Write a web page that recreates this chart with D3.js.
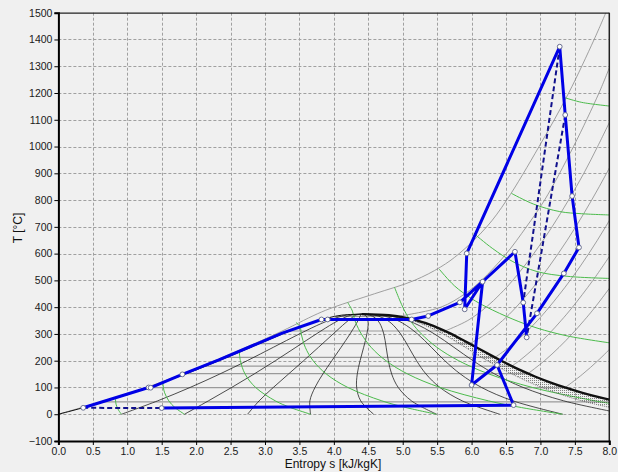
<!DOCTYPE html>
<html>
<head>
<meta charset="utf-8">
<script src="https://cdn.jsdelivr.net/npm/d3@7"></script>
<style>
  html, body { margin: 0; padding: 0; background: #f0f0f0; }
  svg { display: block; font-family: "Liberation Sans", Arial, sans-serif; }
</style>
</head>
<body>
<svg id="chart" width="618" height="472"></svg>
<script>
// ---- axis ticks ----
const sTicks = [0, 0.5, 1, 1.5, 2, 2.5, 3, 3.5, 4, 4.5, 5, 5.5, 6, 6.5, 7, 7.5, 8];
const tTicks = [-100, 0, 100, 200, 300, 400, 500, 600, 700, 800, 900, 1000, 1100, 1200, 1300, 1400, 1500];

// ---- saturation curve of water: T [°C], s' and s'' [kJ/kgK] ----
const satT  = [0.01, 10, 20, 30, 40, 50, 60, 80, 100, 120, 140, 160, 180, 200, 220, 240, 260, 280, 300, 320, 340, 350, 360, 370, 373.95];
const satSf = [0, 0.151, 0.2966, 0.4369, 0.5725, 0.7038, 0.8313, 1.0756, 1.3072, 1.5279, 1.7392, 1.9426, 2.1392, 2.3305, 2.5177, 2.702, 2.8849, 3.0685, 3.2552, 3.4494, 3.6601, 3.7784, 3.9167, 4.1112, 4.407];
const satSg = [9.155, 8.899, 8.666, 8.452, 8.256, 8.075, 7.908, 7.611, 7.354, 7.129, 6.929, 6.75, 6.585, 6.431, 6.284, 6.141, 5.998, 5.852, 5.705, 5.536, 5.336, 5.213, 5.053, 4.8, 4.407];

// lower edge of the stippled wet-steam band below the dew line [s, T]
const bandEdge = [[4.407, 373.95], [4.766, 370], [4.996, 360], [5.252, 340], [5.583, 300], [5.908, 250], [6.226, 200], [6.588, 150], [7.02, 100], [7.6, 50], [8.5, 0]];

// ---- lines of constant steam quality x [s, T] ----
const quality01 = [[0.916, 0], [1.441, 50], [1.912, 100], [2.342, 150], [2.741, 200], [3.121, 250], [3.5, 300], [3.828, 340], [4.031, 360], [4.18, 370], [4.407, 373.95]];
const quality02 = [[1.831, 0], [2.178, 50], [2.516, 100], [2.841, 150], [3.151, 200], [3.449, 250], [3.745, 300], [3.995, 340], [4.144, 360], [4.249, 370], [4.407, 373.95]];
const quality03 = [[2.747, 0], [2.915, 50], [3.121, 100], [3.341, 150], [3.561, 200], [3.777, 250], [3.99, 300], [4.163, 340], [4.258, 360], [4.318, 370], [4.407, 373.95]];
const quality04 = [[3.662, 0], [3.652, 50], [3.726, 100], [3.84, 150], [3.971, 200], [4.105, 250], [4.235, 300], [4.33, 340], [4.371, 360], [4.387, 370], [4.407, 373.95]];
const quality05 = [[4.578, 0], [4.39, 50], [4.331, 100], [4.34, 150], [4.381, 200], [4.433, 250], [4.48, 300], [4.498, 340], [4.485, 360], [4.456, 370], [4.407, 373.95]];
const quality06 = [[5.493, 0], [5.127, 50], [4.935, 100], [4.84, 150], [4.791, 200], [4.76, 250], [4.725, 300], [4.666, 340], [4.599, 360], [4.524, 370], [4.407, 373.95]];
const quality07 = [[6.409, 0], [5.864, 50], [5.54, 100], [5.339, 150], [5.201, 200], [5.088, 250], [4.97, 300], [4.833, 340], [4.712, 360], [4.593, 370], [4.407, 373.95]];
const quality08 = [[7.324, 0], [6.601, 50], [6.145, 100], [5.839, 150], [5.611, 200], [5.416, 250], [5.215, 300], [5.001, 340], [4.826, 360], [4.662, 370], [4.407, 373.95]];
const quality09 = [[8.24, 0], [7.338, 50], [6.749, 100], [6.338, 150], [6.021, 200], [5.744, 250], [5.46, 300], [5.168, 340], [4.939, 360], [4.731, 370], [4.407, 373.95]];

// ---- isobars: boiling temperature [°C] and superheated branch [s, T] ----
const isobarTsat = [45.8, 99.6, 151.8, 179.9, 212.4, 263.9, 311.0, 365.8];
const isobar1   = [[7.359, 99.6], [7.614, 150], [7.834, 200], [8.033, 250]];
const isobar5   = [[6.821, 151.8], [7.059, 200], [7.271, 250], [7.46, 300], [7.633, 350], [7.794, 400], [8.087, 500]];
const isobar10  = [[6.585, 179.9], [6.694, 200], [6.925, 250], [7.123, 300], [7.301, 350], [7.465, 400], [7.762, 500], [8.029, 600]];
const isobar20  = [[6.34, 212.4], [6.545, 250], [6.767, 300], [6.957, 350], [7.127, 400], [7.432, 500], [7.702, 600], [7.946, 700], [8.171, 800]];
const isobar50  = [[5.973, 263.9], [6.208, 300], [6.451, 350], [6.647, 400], [6.976, 500], [7.258, 600], [7.512, 700], [7.744, 800], [7.96, 900], [8.16, 1000]];
const isobar100 = [[5.614, 311], [5.944, 350], [6.212, 400], [6.419, 450], [6.597, 500], [6.903, 600], [7.169, 700], [7.408, 800], [7.63, 900], [7.83, 1000], [8.02, 1100]];
const isobar200 = [[4.927, 365.8], [5.554, 400], [5.904, 450], [6.143, 500], [6.505, 600], [6.796, 700], [7.06, 800], [7.48, 1000], [7.85, 1200], [8.01, 1300]];
const isobar500 = [[0, 0], [1.28, 100], [2.27, 200], [3.16, 300], [3.76, 375], [4.0, 400], [4.59, 450], [5.17, 500], [5.55, 550], [5.82, 600], [6.22, 700], [6.51, 800], [6.98, 1000], [7.41, 1200], [7.78, 1400], [7.95, 1500]];

// ---- isenthalps [s, T] ----
const h250  = [[0.83, 60], [0.832, 45], [0.846, 30], [0.874, 15], [0.915, 0]];
const h500  = [[1.52, 119], [1.524, 100], [1.543, 80], [1.603, 50], [1.692, 25], [1.831, 0]];
const h1000 = [[2.627, 232], [2.643, 200], [2.711, 150], [2.864, 100], [3.15, 50], [3.37, 25], [3.662, 0]];
const h1500 = [[3.45, 343], [3.51, 326], [3.527, 300], [3.585, 250], [3.699, 200], [3.892, 150], [4.203, 100], [4.697, 50], [5.047, 25], [5.491, 0]];
const h2000 = [[4.2, 418], [4.27, 385], [4.294, 360], [4.321, 340], [4.399, 300], [4.541, 250], [4.756, 200], [5.074, 150], [5.543, 100], [6.244, 50], [6.723, 25], [7.321, 0]];
const h2500 = [[4.88, 475], [4.95, 430], [5.02, 390], [5.09, 358], [5.137, 340], [5.271, 300], [5.496, 250], [5.812, 200], [6.255, 150], [6.883, 100], [7.791, 50], [8.019, 40]];
const h3000 = [[5.53, 542], [5.75, 480], [6.0, 432], [6.22, 400], [6.6, 355], [6.95, 322], [7.4, 292], [8.05, 265]];
const h3500 = [[6.03, 676], [6.3, 620], [6.6, 570], [6.95, 533], [7.4, 515], [8.05, 507]];
const h4000 = [[6.58, 825], [6.9, 785], [7.28, 757], [7.6, 749], [8.05, 744]];
const h5000 = [[7.36, 1182], [7.6, 1165], [8.05, 1150]];

// ---- process lines [s, T] ----
const feedLine   = [[0.36, 24], [1.31, 100], [1.34, 99], [1.8, 149], [2.33, 203], [2.79, 253], [3.25, 303], [3.82, 354], [3.91, 354], [5.13, 354]];
const mainPath   = [[5.13, 354], [5.37, 367], [5.83, 418], [6.16, 495], [5.9, 392], [5.93, 601], [7.28, 1373], [7.36, 1118], [7.46, 815], [7.56, 623], [7.34, 526], [6.95, 377], [6.37, 184], [6.0, 109], [6.16, 495], [6.63, 607], [6.75, 417], [6.8, 287]];
const condLine   = [[1.5, 23], [6.61, 34], [6.37, 184]];
const dashedLow  = [[0.36, 24], [1.5, 23]];
const dashedHigh1 = [[7.28, 1373], [6.75, 417]];
const dashedHigh2 = [[7.36, 1118], [6.8, 287]];
const statePoints = [[0.36, 24], [1.31, 100], [1.34, 99], [1.8, 149], [3.82, 354], [3.91, 354], [5.13, 354], [5.37, 367], [5.83, 418], [5.9, 392], [6.16, 495], [5.93, 601], [7.28, 1373], [7.36, 1118], [7.46, 815], [7.56, 623], [7.34, 526], [6.95, 377], [6.37, 184], [6.0, 109], [6.63, 607], [6.75, 417], [6.8, 287], [6.61, 34], [1.5, 23]];

// ---- drawing ----
const W = 618, H = 472;
const svg = d3.select("#chart");
const sScale = d3.scaleLinear().domain([0, 8]).range([58.4, 609.3]);
const tScale = d3.scaleLinear().domain([-100, 1500]).range([441, 12.7]);
const [x0, x1] = sScale.range();
const [y0, y1] = tScale.range();

svg.append("rect").attr("width", W).attr("height", H).attr("fill", "#f0f0f0");

const defs = svg.append("defs");
defs.append("clipPath").attr("id", "plotClip")
  .append("rect").attr("x", x0).attr("y", y1).attr("width", x1 - x0).attr("height", y0 - y1);
const pat = defs.append("pattern").attr("id", "stipple").attr("patternUnits", "userSpaceOnUse")
  .attr("width", 2).attr("height", 2);
pat.append("rect").attr("width", 1).attr("height", 1).attr("fill", "#3a3a3a");

// grid
const grid = svg.append("g").attr("stroke", "#a0a0a0").attr("stroke-width", 1).attr("stroke-dasharray", "3,2");
grid.selectAll("line.v").data(sTicks.slice(1, -1)).join("line")
  .attr("x1", d => Math.round(sScale(d)) + 0.5).attr("x2", d => Math.round(sScale(d)) + 0.5)
  .attr("y1", y1).attr("y2", y0);
grid.selectAll("line.h").data(tTicks.slice(1, -1)).join("line")
  .attr("y1", d => Math.round(tScale(d)) + 0.5).attr("y2", d => Math.round(tScale(d)) + 0.5)
  .attr("x1", x0).attr("x2", x1);

const plot = svg.append("g").attr("clip-path", "url(#plotClip)");
const line = d3.line().x(d => sScale(d[0])).y(d => tScale(d[1]));
const smooth = d3.line().x(d => sScale(d[0])).y(d => tScale(d[1])).curve(d3.curveCatmullRom.alpha(0.5));

const satIndex = d3.range(satT.length);
const liquidLine = satIndex.map(i => [satSf[i], satT[i]]);
const vaporLine = satIndex.map(i => [satSg[i], satT[i]]);
const boilingS = d3.scaleLinear().domain(satT).range(satSf);
const dewS = d3.scaleLinear().domain(satT).range(satSg);

// horizontal (two-phase) parts of the isobars
plot.append("g").selectAll("line").data(isobarTsat).join("line")
  .attr("x1", d => sScale(boilingS(d)))
  .attr("x2", d => sScale(dewS(d)))
  .attr("y1", d => tScale(d)).attr("y2", d => tScale(d))
  .attr("stroke", "#9a9a9a").attr("stroke-width", 1.2);

// quality lines
plot.append("g").selectAll("path")
  .data([quality01, quality02, quality03, quality04, quality05, quality06, quality07, quality08, quality09])
  .join("path").attr("d", smooth).attr("fill", "none").attr("stroke", "#222").attr("stroke-width", 0.8);

// superheated isobars
plot.append("g").selectAll("path")
  .data([isobar1, isobar5, isobar10, isobar20, isobar50, isobar100, isobar200, isobar500])
  .join("path").attr("d", smooth).attr("fill", "none").attr("stroke", "#8a8a8a").attr("stroke-width", 0.8);

// isenthalps
plot.append("g").selectAll("path")
  .data([h250, h500, h1000, h1500, h2000, h2500, h3000, h3500, h4000, h5000])
  .join("path").attr("d", smooth).attr("fill", "none").attr("stroke", "#4cbb4c").attr("stroke-width", 1);

// stippled band below the dew line
const bandPoly = vaporLine.slice().reverse().concat(bandEdge.slice().reverse());
plot.append("path").attr("d", line(bandPoly) + "Z").attr("fill", "url(#stipple)").attr("stroke", "none").attr("opacity", 0.6);
plot.append("path").attr("d", smooth(bandEdge)).attr("fill", "none").attr("stroke", "#444").attr("stroke-width", 0.7).attr("stroke-dasharray", "1,1");

// saturation dome
plot.append("path").attr("d", smooth(liquidLine)).attr("fill", "none").attr("stroke", "#111").attr("stroke-width", 1);
plot.append("path").attr("d", smooth(vaporLine)).attr("fill", "none").attr("stroke", "#111").attr("stroke-width", 2.4);

// process lines
const blue = "#0000e6";
plot.append("g").selectAll("path").data([dashedLow, dashedHigh1, dashedHigh2]).join("path")
  .attr("d", line).attr("fill", "none").attr("stroke", "#10108c").attr("stroke-width", 2).attr("stroke-dasharray", "5,3");
plot.append("g").selectAll("path").data([feedLine, mainPath, condLine]).join("path")
  .attr("d", line).attr("fill", "none").attr("stroke", blue).attr("stroke-width", 3).attr("stroke-linejoin", "round");
plot.append("g").selectAll("circle").data(statePoints).join("circle")
  .attr("cx", d => sScale(d[0])).attr("cy", d => tScale(d[1])).attr("r", 2.4)
  .attr("fill", "#fff").attr("stroke", "#6a7090").attr("stroke-width", 1);

// frame
svg.append("line").attr("x1", x0).attr("x2", x1).attr("y1", y1 + 0.5).attr("y2", y1 + 0.5).attr("stroke", "#222").attr("stroke-width", 1.2);
svg.append("line").attr("x1", x1).attr("x2", x1).attr("y1", y1).attr("y2", y0).attr("stroke", "#222").attr("stroke-width", 1.5);

// axes
const yAxis = svg.append("g").attr("transform", `translate(${x0},0)`)
  .call(d3.axisLeft(tScale).tickValues(tTicks).tickFormat(d3.format("d")).tickSize(4).tickPadding(2));
const xAxis = svg.append("g").attr("transform", `translate(0,${y0})`)
  .call(d3.axisBottom(sScale).tickValues(sTicks).tickFormat(d3.format(".1f")).tickSize(4).tickPadding(3));
[yAxis, xAxis].forEach(g => {
  g.select(".domain").attr("stroke", "#000").attr("stroke-width", 2);
  g.selectAll(".tick line").attr("stroke", "#000");
  g.selectAll(".tick text").attr("fill", "#1a1a1a").style("font-size", "10.5px").style("font-family", "'Liberation Sans', Arial, sans-serif");
});

svg.append("text").attr("x", 333).attr("y", 468).attr("text-anchor", "middle")
  .style("font-size", "12px").attr("fill", "#111").text("Entropy s [kJ/kgK]");
svg.append("text").attr("transform", "translate(22,228) rotate(-90)").attr("text-anchor", "middle")
  .style("font-size", "12px").attr("fill", "#111").text("T [°C]");
</script>
</body>
</html>
